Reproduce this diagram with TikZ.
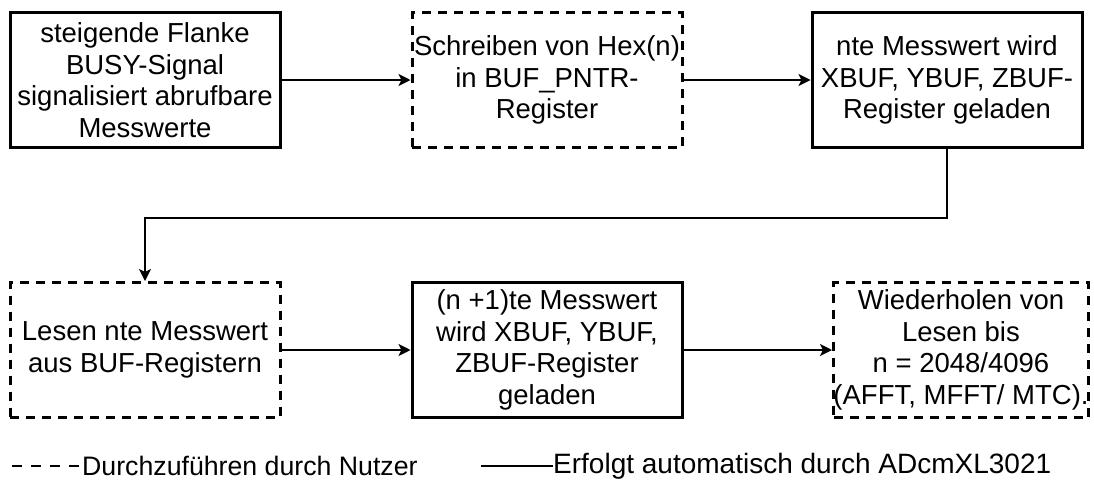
\documentclass[tikz,border=0pt]{standalone}
\usepackage{fontspec}
\setmainfont{Liberation Sans}
\usetikzlibrary{arrows.meta}
\begin{document}
\begin{tikzpicture}[x=1pt,y=-1pt,
 every node/.style={font=\fontsize{27.5}{31.5}\selectfont, align=center, inner sep=0pt},
 solidbox/.style={draw, line width=3pt, minimum width=270pt, minimum height=135pt},
 dashbox/.style={draw, line width=3pt, dash pattern=on 9pt off 7pt, minimum width=270pt, minimum height=135pt},
 arr/.style={line width=1.5pt, -{Stealth[length=12pt,width=12pt,inset=3pt]}},
 legdash/.style={line width=2.6pt, dash pattern=on 10pt off 9pt},
 legsolid/.style={line width=2.6pt}]
\useasboundingbox (0,0) rectangle (1094,480);
\node[solidbox] (b1) at (145,80) {steigende Flanke\\BUSY-Signal\\signalisiert abrufbare\\Messwerte};
\node[dashbox] (b2) at (547,80) {Schreiben von Hex(n)\\in BUF\_PNTR-\\Register};
\node[solidbox] (b3) at (947,80) {nte Messwert wird\\XBUF, YBUF, ZBUF-\\Register geladen};
\node[dashbox] (b4) at (145,350) {Lesen nte Messwert\\aus BUF-Registern};
\node[solidbox] (b5) at (547,350) {(n +1)te Messwert\\wird XBUF, YBUF,\\ZBUF-Register\\geladen};
\node[dashbox, minimum width=255pt, inner xsep=-6pt] (b6) at (961,350) {Wiederholen von\\Lesen bis\\n = 2048/4096\\(AFFT, MFFT/ MTC).};
\draw[arr] (b1) -- (b2);
\draw[arr] (b2) -- (b3);
\draw[arr] (b3.south) -- ++(0,69) -| (b4.north);
\draw[arr] (b4) -- (b5);
\draw[arr] (b5) -- (b6);
\node[anchor=west, font=\fontsize{26.7}{31}\selectfont] (l1) at (82,466) {Durchzuführen durch Nutzer};
\node[anchor=west, font=\fontsize{28}{31}\selectfont] (l2) at (553,466) {Erfolgt automatisch durch ADcmXL3021};
\coordinate (d0) at (12,466);
\coordinate (s0) at (481,466);
\draw[legdash] (d0) -- (l1.west);
\draw[legsolid] (s0) -- (l2.west);
\end{tikzpicture}
\end{document}
